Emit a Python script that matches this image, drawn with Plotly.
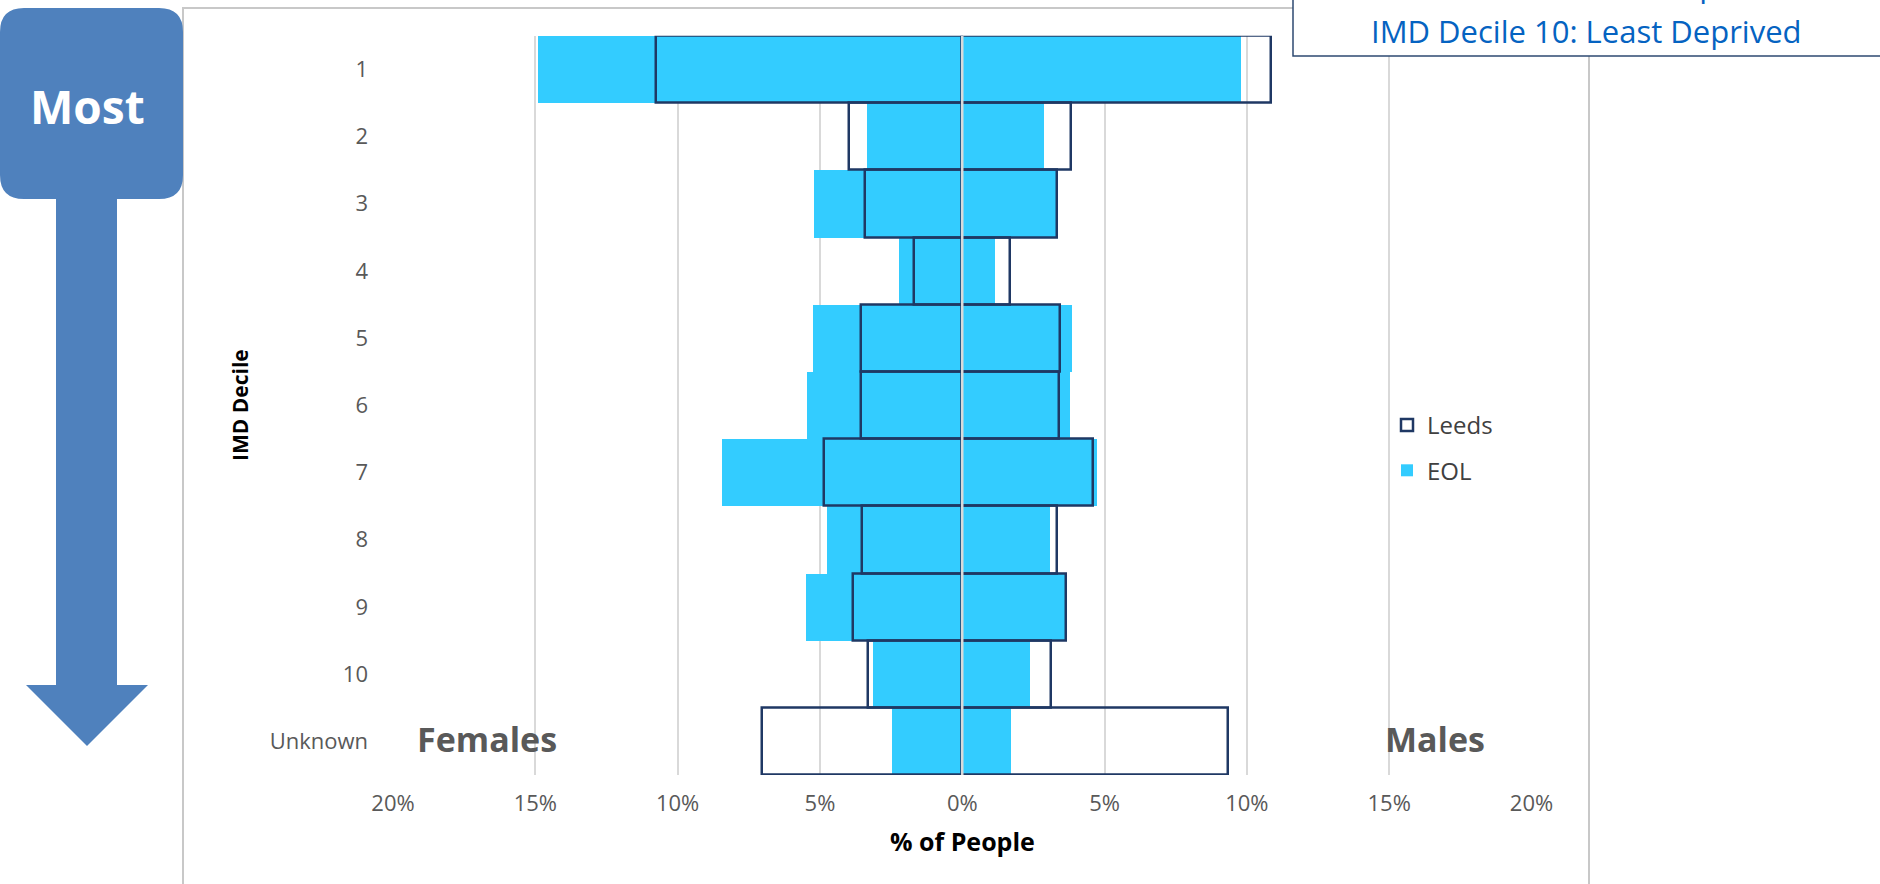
import plotly.graph_objects as go

# IMD decile profile: Leeds population vs EOL cohort, split by sex (% of people)
deciles = ["1", "2", "3", "4", "5", "6", "7", "8", "9", "10", "Unknown"]
leeds_female = [10.77, 3.97, 3.43, 1.69, 3.57, 3.57, 4.87, 3.52, 3.83, 3.32, 7.05]
leeds_male = [10.84, 3.83, 3.33, 1.69, 3.42, 3.39, 4.58, 3.33, 3.65, 3.13, 9.34]
eol_female = [14.89, 3.36, 5.21, 2.21, 5.26, 5.44, 8.43, 4.76, 5.49, 3.13, 2.48]
eol_male = [9.79, 2.88, 3.30, 1.15, 3.86, 3.77, 4.74, 3.08, 3.60, 2.38, 1.73]

tick_vals = [-20, -15, -10, -5, 0, 5, 10, 15, 20]
tick_text = ["20%", "15%", "10%", "5%", "0%", "5%", "10%", "15%", "20%"]

W, H = 1880, 884


def px(x):
    return x / W


def py(y):
    return 1 - y / H


EOL_BLUE = "#33CCFF"
NAVY = "#1F3864"
GREY_TXT = "#595959"
ARROW = "#4F81BD"
FONT = "Open Sans"

fig = go.Figure()

# EOL: solid cyan bars (females to the left, males to the right)
fig.add_trace(go.Bar(
    y=deciles, x=[-v for v in eol_female], orientation="h", name="EOL",
    marker=dict(color=EOL_BLUE, line=dict(width=0)),
    legendgroup="eol", legendrank=2, showlegend=True, width=1,
))
fig.add_trace(go.Bar(
    y=deciles, x=eol_male, orientation="h", name="EOL",
    marker=dict(color=EOL_BLUE, line=dict(width=0)),
    legendgroup="eol", showlegend=False, width=1,
))

# Leeds: outlined, unfilled bars drawn on top
fig.add_trace(go.Bar(
    y=deciles, x=[-v for v in leeds_female], orientation="h", name="Leeds",
    marker=dict(color="rgba(255,255,255,0)", line=dict(color=NAVY, width=2.5)),
    legendgroup="leeds", legendrank=1, showlegend=True, width=1,
))
fig.add_trace(go.Bar(
    y=deciles, x=leeds_male, orientation="h", name="Leeds",
    marker=dict(color="rgba(255,255,255,0)", line=dict(color=NAVY, width=2.5)),
    legendgroup="leeds", showlegend=False, width=1,
))

shapes = []

# outer chart frame
shapes.append(dict(type="rect", xref="paper", yref="paper",
                   x0=px(183), x1=px(1589), y0=py(900), y1=py(8),
                   line=dict(color="#C8C8C8", width=2), fillcolor="rgba(0,0,0,0)",
                   layer="below"))

# centre axis line over the bars
shapes.append(dict(type="line", xref="x", yref="paper", x0=0, x1=0,
                   y0=py(775), y1=py(35.7),
                   line=dict(color="#D9D9D9", width=2.5), layer="above"))

# "Most" rounded box with downward arrow
r = 24
bx0, bx1, by0, by1 = 0, 183, 8, 199
sx0, sx1 = 56, 117
hy, hx0, hx1, tipx, tipy = 685, 26, 148, 87, 746
pts = [
    f"M{px(bx0 + r)},{py(by0)}",
    f"L{px(bx1 - r)},{py(by0)}",
    f"Q{px(bx1)},{py(by0)} {px(bx1)},{py(by0 + r)}",
    f"L{px(bx1)},{py(by1 - r)}",
    f"Q{px(bx1)},{py(by1)} {px(bx1 - r)},{py(by1)}",
    f"L{px(sx1)},{py(by1)}",
    f"L{px(sx1)},{py(hy)}",
    f"L{px(hx1)},{py(hy)}",
    f"L{px(tipx)},{py(tipy)}",
    f"L{px(hx0)},{py(hy)}",
    f"L{px(sx0)},{py(hy)}",
    f"L{px(sx0)},{py(by1)}",
    f"L{px(bx0 + r)},{py(by1)}",
    f"Q{px(bx0)},{py(by1)} {px(bx0)},{py(by1 - r)}",
    f"L{px(bx0)},{py(by0 + r)}",
    f"Q{px(bx0)},{py(by0)} {px(bx0 + r)},{py(by0)}",
    "Z",
]
shapes.append(dict(type="path", xref="paper", yref="paper", path=" ".join(pts),
                   fillcolor=ARROW, line=dict(width=0), layer="above"))

# key text box in the top right
shapes.append(dict(type="rect", xref="paper", yref="paper",
                   x0=px(1293), x1=px(1900), y0=py(56), y1=py(-20),
                   line=dict(color="#2E4A72", width=1.5), fillcolor="white",
                   layer="above"))


def label(text, x, y, size, color, angle=0):
    return dict(text=text, x=px(x), y=py(y), xref="paper", yref="paper",
                xanchor="center", yanchor="middle", showarrow=False,
                textangle=angle, font=dict(family=FONT, size=size, color=color))


annotations = [
    label("<b>Most</b>", 87, 106, 46, "white"),
    label("IMD Decile 1: Most Deprived", 1586, -15, 31, "#0563C1"),
    label("IMD Decile 10: Least Deprived", 1586, 31, 31, "#0563C1"),
    label("<b>Females</b>", 487, 739, 34, GREY_TXT),
    label("<b>Males</b>", 1435, 739, 34, GREY_TXT),
    label("<b>% of People</b>", 962, 841, 25, "black"),
    label("<b>IMD Decile</b>", 240, 405, 21, "black", angle=-90),
]

fig.update_layout(
    width=W, height=H,
    margin=dict(l=0, r=0, t=0, b=0, autoexpand=False),
    paper_bgcolor="white", plot_bgcolor="white",
    barmode="overlay", bargap=0,
    font=dict(family=FONT, color=GREY_TXT),
    shapes=shapes, annotations=annotations,
    showlegend=True,
    legend=dict(
        x=px(1387), y=py(403), xanchor="left", yanchor="top",
        traceorder="grouped", tracegroupgap=11,
        font=dict(family=FONT, size=24, color="#404040"),
        bgcolor="rgba(0,0,0,0)",
    ),
    xaxis=dict(
        domain=[px(393), px(1531.5)], range=[-20, 20],
        tickvals=tick_vals, ticktext=tick_text,
        showgrid=True, gridcolor="#D9D9D9", gridwidth=2,
        zeroline=False, showline=False, ticks="",
        ticklabelstandoff=13,
        tickfont=dict(family=FONT, size=22, color=GREY_TXT),
        fixedrange=True,
    ),
    yaxis=dict(
        domain=[py(775), py(35.7)],
        type="category", categoryorder="array", categoryarray=deciles,
        autorange="reversed",
        showgrid=False, zeroline=False, showline=False, ticks="",
        ticklabelstandoff=24,
        tickfont=dict(family=FONT, size=22, color=GREY_TXT),
        fixedrange=True,
    ),
)

fig.write_html("out.html")
